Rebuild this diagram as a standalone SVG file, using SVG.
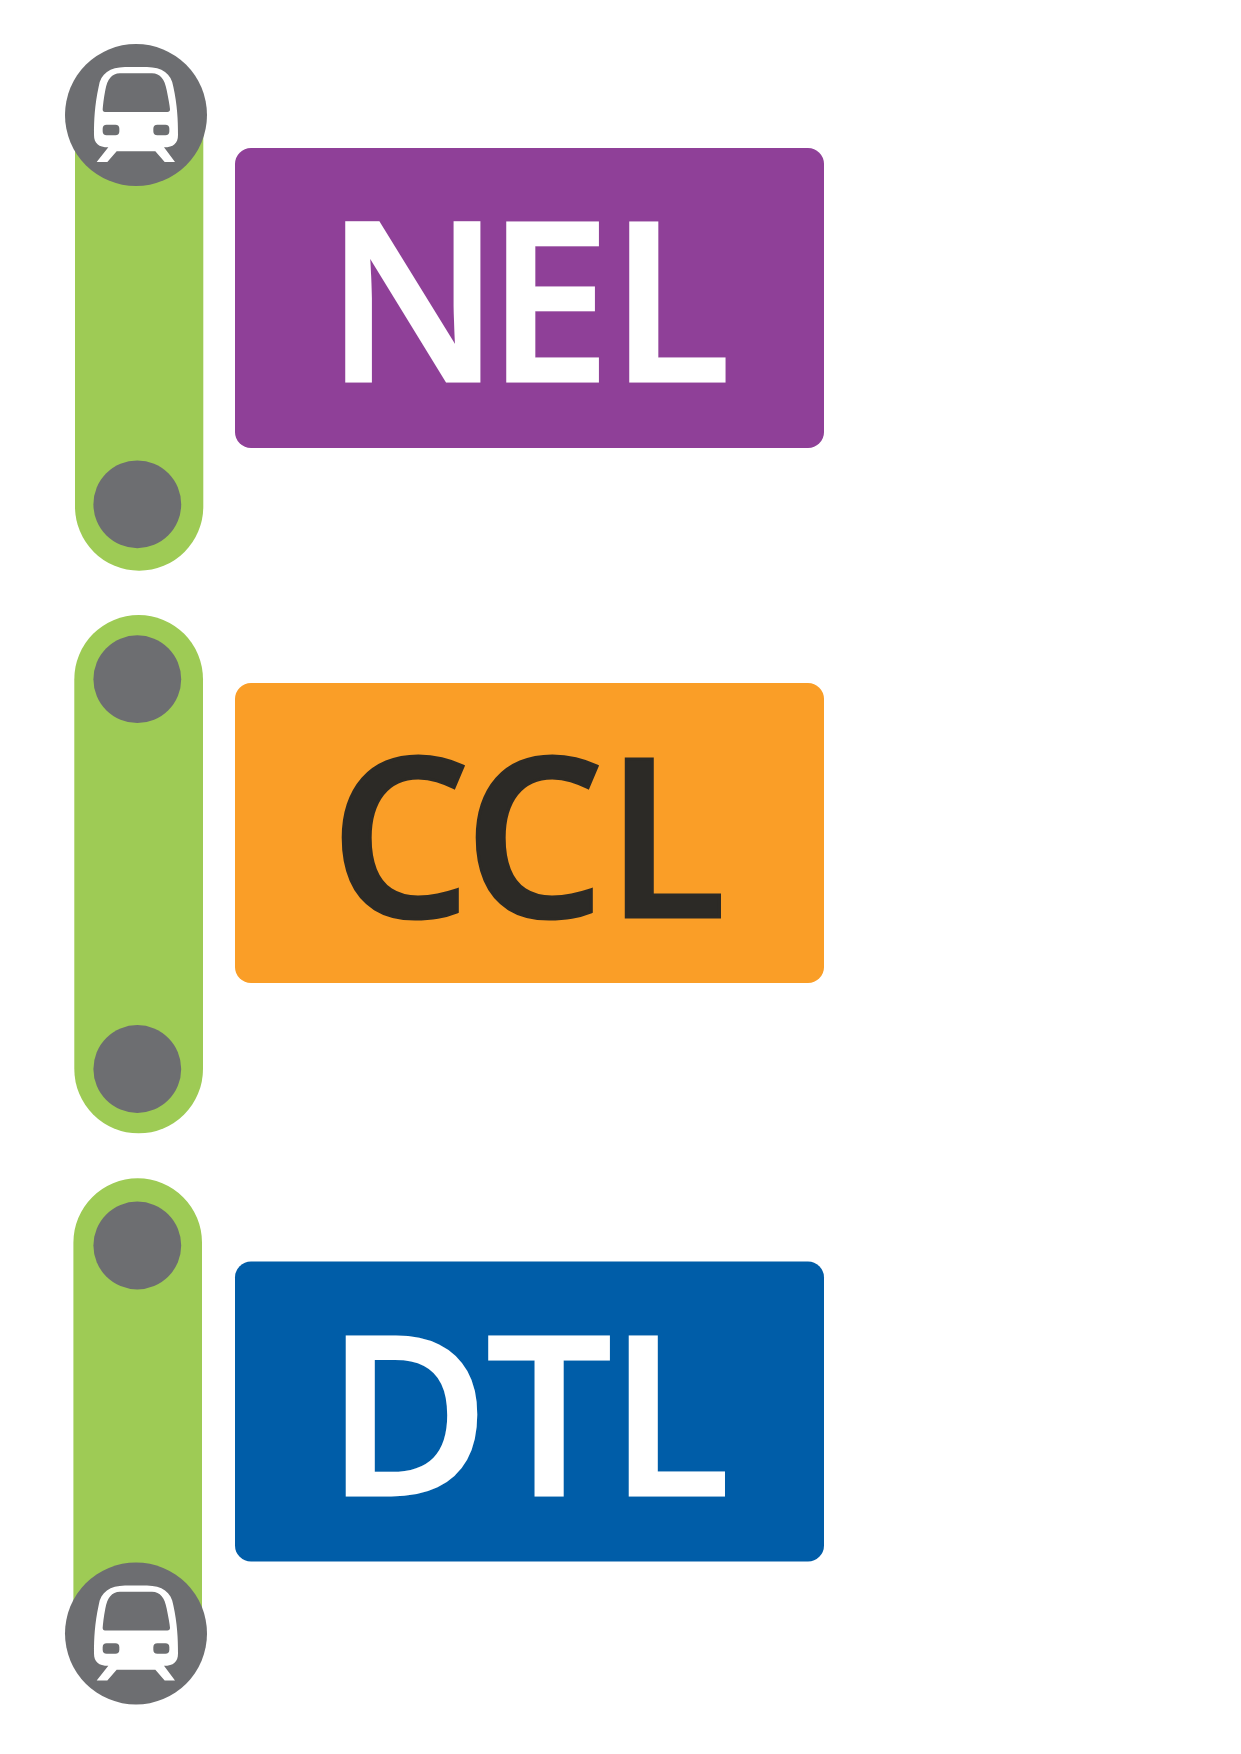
<svg xmlns="http://www.w3.org/2000/svg" width="1241" height="1754" viewBox="0 0 1241 1754">
<style>
.pill{fill:#9ecb55}
.stn{fill:#6d6e71}
.box{stroke:none}
.lab{font-family:"Open Sans","Noto Sans",sans-serif;font-weight:600;font-size:221.700px;stroke-width:3px;stroke-linejoin:miter}
.w{fill:#fff;stroke:#fff}
.d{fill:#2c2a26;stroke:#2c2a26}
</style>
<defs>
<g id="train">
<circle class="stn" cx="258" cy="255" r="213"/>
<path class="w" style="stroke:none" fill-rule="evenodd" d="M225 111L291 111C336 112 364 130 370 170C382 225 384 270 384 315C384 340 370 352 342 352L375 396L344 396L316 364L200 364L172 396L140 396L175 352C146 352 132 340 132 315C132 270 134 225 146 170C152 130 180 112 225 111ZM210 130C185 131 172 148 166 180C161 205 159 225 158 238Q158 246 165 246L352 246Q360 246 360 238C359 225 355 205 350 180C344 148 331 131 306 130ZM170 284Q158 284 158 296L158 304Q158 316 170 316L196 316Q208 316 208 304L208 296Q208 284 196 284ZM322 284Q310 284 310 296L310 304Q310 316 322 316L346 316Q358 316 358 304L358 296Q358 284 346 284Z"/>
</g>
</defs>
<rect width="1241" height="1754" fill="#fff"/>
<g id="connectors">
<path class="pill" d="M75 115H203.300V506.550A64.150 64.150 0 0 1 75 506.550Z"/>
<rect class="pill" x="74.300" y="615" width="128.700" height="518.300" rx="64.350"/>
<path class="pill" d="M73.400 1242.600A64.300 64.300 0 0 1 202 1242.600V1633H73.400Z"/>
</g>
<g id="terminal-top"><use href="#train" transform="translate(50 30) scale(.33333)"/></g>
<g id="stop-1"><circle class="stn" cx="137.300" cy="504.300" r="43.900"/></g>
<g id="stop-2"><circle class="stn" cx="137.300" cy="679.200" r="43.900"/></g>
<g id="stop-3"><circle class="stn" cx="137.300" cy="1069" r="43.900"/></g>
<g id="stop-4"><circle class="stn" cx="137.300" cy="1245.500" r="43.900"/></g>
<g id="terminal-bottom"><use href="#train" transform="translate(50 1548.500) scale(.33333)"/></g>
<g id="nel"><rect class="box" x="235" y="148" width="589" height="300" rx="16" fill="#8f4098"/>
<text class="lab w" x="326 487 610" y="381.200">NEL</text></g>
<g id="ccl"><rect class="box" x="235" y="683" width="589" height="300" rx="16" fill="#fa9e27"/>
<text class="lab d" x="330 464 605.500" y="916.500">CCL</text></g>
<g id="dtl"><rect class="box" x="235" y="1261.500" width="589" height="300" rx="16" fill="#005da8"/>
<text class="lab w" x="326.500 486.500 609.500" y="1495.200">DTL</text></g>
</svg>
